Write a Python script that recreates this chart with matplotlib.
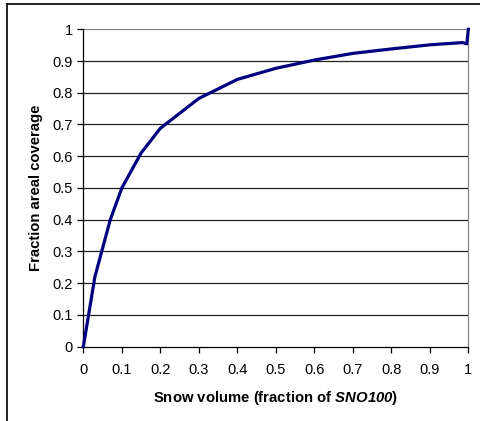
import numpy as np
import matplotlib
matplotlib.use('Agg')
import matplotlib.pyplot as plt
from matplotlib.lines import Line2D

plt.rcParams['font.family'] = ['Liberation Sans', 'DejaVu Sans']
plt.rcParams['mathtext.fontset'] = 'custom'
plt.rcParams['mathtext.bfit'] = 'Liberation Sans:italic:bold'

# snow volume (fraction of SNO100) vs fraction areal coverage
snow_vol = [0, 0.03, 0.07, 0.1, 0.15, 0.2, 0.3, 0.4, 0.5, 0.6, 0.7, 0.8, 0.9, 0.96, 0.985, 0.996, 1.0]
coverage = [0, 0.22, 0.40, 0.50, 0.61, 0.688, 0.782, 0.842, 0.877, 0.903, 0.924, 0.938, 0.951, 0.956, 0.958, 0.954, 1.0]
ticks = [0, 0.1, 0.2, 0.3, 0.4, 0.5, 0.6, 0.7, 0.8, 0.9, 1]
tick_labels = ['0', '0.1', '0.2', '0.3', '0.4', '0.5', '0.6', '0.7', '0.8', '0.9', '1']

fig = plt.figure(figsize=(4.8, 4.21), dpi=100)
ax = fig.add_axes([0.1736, 0.1765, 0.8021, 0.754])

# outer frame (left and top edges only visible)
fig.add_artist(Line2D([0.0146, 0.0146], [0, 0.9905], transform=fig.transFigure, color='black', lw=1.2))
fig.add_artist(Line2D([0.0146, 1], [0.9905, 0.9905], transform=fig.transFigure, color='black', lw=1.2))

for t in ticks[1:]:
    ax.axhline(t, color='#202020' if t < 1 else '#808080', lw=0.9, zorder=1)

ax.plot(snow_vol, coverage, color='#000080', lw=2.3, zorder=3, clip_on=False, solid_joinstyle='round')

ax.set_xlim(0, 1)
ax.set_ylim(0, 1)
ax.set_xticks(ticks)
ax.set_xticklabels(tick_labels)
ax.set_yticks(ticks)
ax.set_yticklabels(tick_labels)

ax.spines['top'].set_visible(False)
ax.spines['right'].set_color('#808080')
ax.spines['left'].set_color('black')
ax.spines['bottom'].set_color('black')
for s in ['left', 'bottom', 'right']:
    ax.spines[s].set_linewidth(0.9)

ax.tick_params(axis='y', direction='out', length=4, width=0.9, pad=3.6, labelsize=10.5)
ax.tick_params(axis='x', direction='out', length=4, width=0.9, pad=7.5, labelsize=10.5)

ax.set_xlabel(r'Snow volume (fraction of $\mathbfit{SNO100}$)', fontsize=10.7, fontweight='bold', labelpad=9)
ax.set_ylabel('Fraction areal coverage', fontsize=10.7, fontweight='bold', labelpad=7)

fig.savefig('out.png', dpi=100)
